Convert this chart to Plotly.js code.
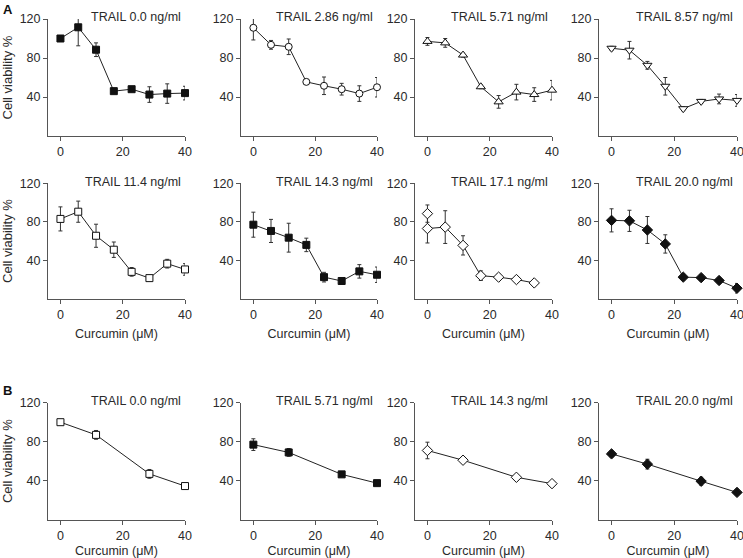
<!DOCTYPE html>
<html>
<head>
<meta charset="utf-8">
<script src="https://cdn.plot.ly/plotly-3.0.1.min.js"></script>
<style>html,body{margin:0;padding:0;background:#fff}#chart{width:743px;height:558px}</style>
</head>
<body>
<div id="chart"></div>
<script>
// ---- Data ----
const xA = [0, 5.71, 11.43, 17.14, 22.86, 28.57, 34.29, 40];
const xB = [0, 11.43, 28.57, 40];

const labelsA = ['TRAIL 0.0 ng/ml', 'TRAIL 2.86 ng/ml', 'TRAIL 5.71 ng/ml', 'TRAIL 8.57 ng/ml',
                 'TRAIL 11.4 ng/ml', 'TRAIL 14.3 ng/ml', 'TRAIL 17.1 ng/ml', 'TRAIL 20.0 ng/ml'];
const labelsB = ['TRAIL 0.0 ng/ml', 'TRAIL 5.71 ng/ml', 'TRAIL 14.3 ng/ml', 'TRAIL 20.0 ng/ml'];

const yA0 = [100, 111.5, 88.5, 46, 48, 42.5, 43.5, 44];
const eA0 = [1.5, 19, 7, 1.5, 2, 8, 10, 7];
const yA1 = [111, 93.5, 91.5, 55.5, 51.5, 48, 43.5, 50];
const eA1 = [12.5, 4.5, 8, 2, 9, 6, 8, 10];
const yA2 = [97, 95.5, 83, 50.5, 35, 45, 42.5, 47];
const eA2 = [4, 4.5, 2, 2, 6.5, 8, 7, 10];
const yA3 = [90, 88, 72.5, 51, 28, 35.5, 38, 36.5];
const eA3 = [2, 9, 4, 9, 2, 2, 5, 6];
const yA4 = [83, 90.5, 65.5, 51, 28, 21.5, 36.5, 30.5];
const eA4 = [12.5, 11, 12, 8, 4.5, 2, 4.5, 6];
const yA5 = [77, 70.5, 63.5, 56, 22.5, 18.5, 28.5, 25];
const eA5 = [13, 12, 15, 7, 5, 3, 7, 8];
const yA6 = [73, 74.5, 55.5, 24, 22.5, 20, 16.5];
const eA6 = [15, 17, 10, 5, 3, 2, 2];
const xA6extra = [0];
const yA6extra = [88.5];
const eA6extra = [9];
const yA7 = [81.5, 81, 71.5, 57, 22.5, 22, 19, 11];
const eA7 = [12, 11, 14, 9.5, 3, 3, 2, 5];

const yB0 = [100, 87, 47, 34.5];
const eB0 = [1, 4.5, 4.5, 2];
const yB1 = [77, 69, 46.5, 37.5];
const eB1 = [6, 4, 1.5, 2];
const yB2 = [71, 61, 43.5, 37];
const eB2 = [8.5, 3, 1.5, 1.5];
const yB3 = [67.5, 57, 39.5, 28];
const eB3 = [3, 5, 4, 1.5];

const xTicks = [0, 20, 40];
const yTicks = [40, 80, 120];

// ---- Styling / layout ----
const W = 743, H = 558;
const colPx = [[48, 185], [241, 377], [415, 552], [599, 737]];
const rowPx = [[19, 136], [183.3, 298.8], [402.7, 519.7]]; // [top(120), bottom(0)]

const seriesA = [
  {y: yA0, e: eA0, sym: 'square', fill: '#111'},
  {y: yA1, e: eA1, sym: 'circle', fill: '#fff'},
  {y: yA2, e: eA2, sym: 'triangle-up', fill: '#fff'},
  {y: yA3, e: eA3, sym: 'triangle-down', fill: '#fff'},
  {y: yA4, e: eA4, sym: 'square', fill: '#fff'},
  {y: yA5, e: eA5, sym: 'square', fill: '#111'},
  {y: yA6, e: eA6, sym: 'diamond', fill: '#fff'},
  {y: yA7, e: eA7, sym: 'diamond', fill: '#111'}
];
const seriesB = [
  {y: yB0, e: eB0, sym: 'square', fill: '#fff'},
  {y: yB1, e: eB1, sym: 'square', fill: '#111'},
  {y: yB2, e: eB2, sym: 'diamond', fill: '#fff'},
  {y: yB3, e: eB3, sym: 'diamond', fill: '#111'}
];

const FONT = 'Liberation Sans, Arial, sans-serif';
const TXT = '#2a2a2a';
const AX = '#555';

const traces = [];
const layout = {
  width: W, height: H,
  margin: {l: 0, r: 0, t: 0, b: 0},
  paper_bgcolor: '#fff', plot_bgcolor: 'rgba(0,0,0,0)',
  showlegend: false,
  font: {family: FONT, size: 12, color: TXT},
  annotations: []
};

function mkTrace(x, y, e, sym, fill, idx, withLine) {
  const size = sym.startsWith('triangle') ? 8 : (sym === 'diamond' ? 8 : 7);
  return {
    type: 'scatter', mode: withLine ? 'lines+markers' : 'markers',
    x: x, y: y,
    xaxis: 'x' + (idx === 1 ? '' : idx), yaxis: 'y' + (idx === 1 ? '' : idx),
    line: {color: '#222', width: 1},
    marker: {symbol: sym, size: size, color: fill, line: {color: '#111', width: 1}},
    error_y: {type: 'data', array: e, visible: true, color: '#333', thickness: 1, width: 2},
    cliponaxis: false, hoverinfo: 'x+y'
  };
}

function addPanel(idx, row, col, x, s, label, showXTitle) {
  const xs = x.slice(0, s.y.length);
  traces.push(mkTrace(xs, s.y, s.e, s.sym, s.fill, idx, true));
  const sfx = idx === 1 ? '' : idx;
  const c = colPx[col], r = rowPx[row];
  layout['xaxis' + sfx] = {
    domain: [c[0] / W, c[1] / W], anchor: 'y' + sfx,
    range: [-4, 40], tickvals: xTicks, ticks: 'outside', ticklen: 4, tickcolor: AX,
    showline: true, linecolor: AX, linewidth: 1, showgrid: false, zeroline: false,
    tickfont: {size: 12.5, color: TXT}, fixedrange: true, ticklabeloverflow: 'allow',
    title: showXTitle ? {text: 'Curcumin (μM)', font: {size: 12.5, color: TXT}, standoff: 8} : {text: ''}
  };
  layout['yaxis' + sfx] = {
    domain: [1 - r[1] / H, 1 - r[0] / H], anchor: 'x' + sfx,
    range: [0, 120], tickvals: yTicks, ticks: 'outside', ticklen: 4, tickcolor: AX,
    showline: true, linecolor: AX, linewidth: 1, showgrid: false, zeroline: false,
    tickfont: {size: 12.5, color: TXT}, fixedrange: true, ticklabeloverflow: 'allow',
    title: col === 0 ? {text: 'Cell viability %', font: {size: 13, color: TXT}, standoff: 5} : {text: ''}
  };
  layout.annotations.push({
    text: label, xref: 'x' + sfx + ' domain', yref: 'y' + sfx + ' domain',
    x: 0.985, y: 1.015, xanchor: 'right', yanchor: 'middle', showarrow: false,
    font: {size: 12.5, color: TXT}
  });
}

let idx = 1;
for (let i = 0; i < 8; i++) {
  const row = i < 4 ? 0 : 1;
  const col = i % 4;
  addPanel(idx, row, col, xA, seriesA[i], labelsA[i], row === 1);
  if (i === 6) {
    traces.push(mkTrace(xA6extra, yA6extra, eA6extra, 'diamond', '#fff', idx, false));
  }
  idx++;
}
for (let i = 0; i < 4; i++) {
  addPanel(idx, 2, i, xB, seriesB[i], labelsB[i], true);
  idx++;
}

layout.annotations.push(
  {text: '<b>A</b>', xref: 'paper', yref: 'paper', x: 1 / W, y: 1 - 10 / H, xanchor: 'left', yanchor: 'middle', showarrow: false, font: {size: 13, color: '#111'}},
  {text: '<b>B</b>', xref: 'paper', yref: 'paper', x: 1 / W, y: 1 - 390 / H, xanchor: 'left', yanchor: 'middle', showarrow: false, font: {size: 13, color: '#111'}}
);

Plotly.newPlot('chart', traces, layout, {displayModeBar: false, staticPlot: false});
</script>
</body>
</html>
